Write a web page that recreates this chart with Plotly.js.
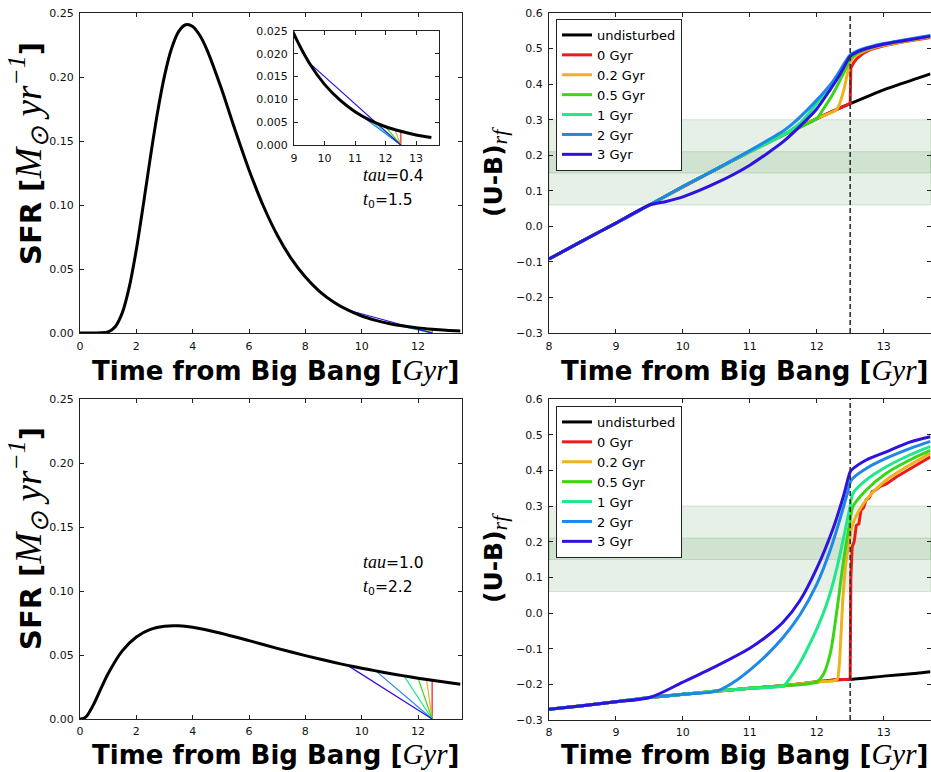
<!DOCTYPE html>
<html>
<head>
<meta charset="utf-8">
<script src="https://cdn.plot.ly/plotly-3.0.1.min.js"></script>
<style>html,body{margin:0;padding:0;background:#fff;}#chart{width:931px;height:772px;}</style>
</head>
<body>
<div id="chart"></div>
<script>
// ---------- SFR panels ----------
const sfrTimeTop = [0,0.5,0.75,1.0,1.25,1.5,1.75,2.0,2.25,2.5,2.75,3.0,3.25,3.5,3.75,4.0,4.25,4.5,5.0,5.5,6.0,6.5,7.0,7.5,8.0,8.5,9.0,9.5,10,10.5,11,11.5,12,12.5,13,13.5];
const sfrTop = [0,0,0.0001,0.0009,0.0049,0.0157,0.0360,0.0652,0.1005,0.1376,0.1721,0.2009,0.2222,0.2354,0.2408,0.2395,0.2326,0.2216,0.1921,0.1590,0.1274,0.0996,0.0766,0.0581,0.0437,0.0326,0.0243,0.0180,0.0133,0.0099,0.0073,0.0054,0.0040,0.0030,0.0022,0.00165];
const sfrTimeBot = [0,0.1,0.25,0.5,0.75,1,1.5,2,2.5,3,3.5,4,5,6,7,8,9,9.5,10,10.5,11,11.5,12,12.5,13,13.5];
const sfrBot = [0,0.0002,0.0026,0.0121,0.0241,0.0355,0.0532,0.0641,0.0700,0.0725,0.0728,0.0716,0.0670,0.0612,0.0552,0.0495,0.0443,0.0419,0.0397,0.0376,0.0356,0.0337,0.0319,0.0303,0.0287,0.0272];

// quenching: start times, SFR at start, end of quench
const seriesNames = ['0 Gyr','0.2 Gyr','0.5 Gyr','1 Gyr','2 Gyr','3 Gyr'];
const quenchStart = [12.5,12.3,12.0,11.5,10.5,9.5];
const quenchSfrTop = [0.0030,0.0034,0.0040,0.0054,0.0099,0.0180];
const quenchSfrBot = [0.0303,0.0309,0.0319,0.0337,0.0376,0.0419];
const quenchEnd = 12.5;
const quenchEndSfr = 0;

// ---------- (U-B) top-right ----------
const ubTimeUndTop = [8,8.5,9,9.5,10,10.5,11,11.5,12,12.3,12.5,13,13.5,13.7];
const ubUndTop = [-0.092,-0.041,0.009,0.060,0.112,0.161,0.210,0.257,0.303,0.329,0.345,0.384,0.416,0.429];
const tailTimeTop = [
  [12.5,12.51,12.55,12.6,12.7,12.8,13,13.3,13.7],
  [12.3,12.4,12.5,12.55,12.7,12.85,13,13.3,13.7],
  [12,12.1,12.25,12.4,12.5,12.6,12.8,13,13.3,13.7],
  [11.5,11.75,12,12.25,12.5,12.6,12.8,13,13.3,13.7],
  [10.5,11,11.5,11.65,12,12.25,12.5,12.6,12.8,13,13.3,13.7],
  [9.5,9.75,10,10.5,11,11.5,11.85,12,12.15,12.35,12.5,12.6,12.8,13,13.3,13.7]
];
const tailUbTop = [
  [0.345,0.445,0.460,0.472,0.487,0.497,0.508,0.519,0.531],
  [0.329,0.380,0.462,0.475,0.492,0.502,0.509,0.520,0.533],
  [0.303,0.330,0.375,0.430,0.470,0.486,0.502,0.512,0.522,0.535],
  [0.257,0.290,0.345,0.405,0.478,0.491,0.504,0.513,0.523,0.536],
  [0.161,0.213,0.268,0.290,0.355,0.410,0.482,0.493,0.505,0.514,0.524,0.537],
  [0.060,0.070,0.083,0.122,0.172,0.238,0.300,0.330,0.370,0.428,0.478,0.490,0.503,0.512,0.522,0.535]
];

// ---------- (U-B) bottom-right ----------
const ubTimeUndBot = [8,8.5,9,9.5,10,10.5,11,11.5,12,12.3,12.5,13,13.5,13.7];
const ubUndBot = [-0.270,-0.260,-0.249,-0.237,-0.228,-0.219,-0.211,-0.204,-0.193,-0.187,-0.186,-0.177,-0.169,-0.165];
const tailTimeBot = [
  [12.5,12.51,12.53,12.56,12.59,12.63,12.66,12.70,12.74,12.78,12.83,12.88,12.95,13.04,13.2,13.39,13.55,13.7],
  [12.3,12.33,12.36,12.39,12.44,12.5,12.54,12.74,13.04,13.39,13.7],
  [12,12.1,12.2,12.3,12.4,12.5,12.54,12.74,13.04,13.39,13.7],
  [11.5,11.6,11.75,11.9,12,12.1,12.2,12.3,12.4,12.5,12.54,12.74,13.04,13.39,13.7],
  [10.5,10.75,11,11.25,11.5,11.75,12,12.2,12.35,12.45,12.52,12.74,13.04,13.39,13.7],
  [9.5,10,10.5,11,11.25,11.5,11.75,12,12.25,12.4,12.5,12.52,12.74,13.04,13.39,13.7]
];
const tailUbBot = [
  [-0.186,0.100,0.186,0.200,0.245,0.250,0.288,0.295,0.318,0.322,0.340,0.345,0.355,0.362,0.383,0.404,0.422,0.438],
  [-0.187,-0.160,-0.070,0.036,0.146,0.215,0.251,0.317,0.373,0.415,0.448],
  [-0.193,-0.172,-0.115,0.005,0.146,0.260,0.298,0.345,0.392,0.429,0.456],
  [-0.204,-0.183,-0.140,-0.085,-0.045,0.000,0.055,0.125,0.210,0.300,0.335,0.373,0.410,0.443,0.467],
  [-0.219,-0.195,-0.160,-0.118,-0.068,-0.005,0.080,0.175,0.265,0.330,0.373,0.405,0.434,0.461,0.481],
  [-0.237,-0.194,-0.149,-0.099,-0.066,-0.025,0.035,0.125,0.240,0.328,0.396,0.401,0.429,0.452,0.479,0.494]
];

// observed colour bands
const bandOuter = [0.06, 0.30];
const bandInner = [0.15, 0.21];
const quenchLine = 12.5;

const colors = ['#ee1a1a','#eeb21e','#3ad616','#1ee88a','#1e88e8','#2e12e0'];

// ---------- build traces ----------
const traces = [];
function sfrPanel(xa, ya, tArr, sArr, qS) {
  for (let i = 0; i < seriesNames.length; i++) {
    traces.push({x:[quenchStart[i], quenchEnd], y:[qS[i], quenchEndSfr], xaxis:xa, yaxis:ya,
      mode:'lines', line:{color:colors[i], width:1.2}, showlegend:false, hoverinfo:'skip'});
  }
  traces.push({x:tArr, y:sArr, xaxis:xa, yaxis:ya, mode:'lines',
    line:{color:'#000', width:3, shape:'spline', smoothing:0.8}, showlegend:false});
}
sfrPanel('x','y',sfrTimeTop,sfrTop,quenchSfrTop);
sfrPanel('x5','y5',sfrTimeTop,sfrTop,quenchSfrTop);
sfrPanel('x3','y3',sfrTimeBot,sfrBot,quenchSfrBot);

function ubPanel(xa, ya, tU, vU, tT, vT, leg, smooth) {
  traces.push({x:tU, y:vU, xaxis:xa, yaxis:ya, mode:'lines', name:'undisturbed',
    line:{color:'#000', width:3, shape:'spline', smoothing:0.5}, legend:leg});
  for (let i = 0; i < seriesNames.length; i++) {
    const x = [], y = [];
    for (let k = 0; k < tU.length; k++) if (tU[k] < tT[i][0]) { x.push(tU[k]); y.push(vU[k]); }
    for (let k = 0; k < tT[i].length; k++) { x.push(tT[i][k]); y.push(vT[i][k]); }
    traces.push({x:x, y:y, xaxis:xa, yaxis:ya, mode:'lines', name:seriesNames[i],
      line:{color:colors[i], width:3, shape: i===0 ? 'linear' : 'spline', smoothing:smooth}, legend:leg});
  }
}
ubPanel('x2','y2',ubTimeUndTop,ubUndTop,tailTimeTop,tailUbTop,'legend',0.6);
ubPanel('x4','y4',ubTimeUndBot,ubUndBot,tailTimeBot,tailUbBot,'legend2',0.9);

// ---------- layout ----------
const W = 931, H = 772;
const px = v => v / W, py = v => 1 - v / H;
const tickFont = {family:'DejaVu Sans', size:11, color:'#111'};
function ax(domain, range, dtick, fmt, anchor, standoff) {
  return {domain:domain, range:range, dtick:dtick, tick0:0, tickformat:fmt, anchor:anchor,
    showline:true, linecolor:'#222', linewidth:1, mirror:'allticks', ticks:'inside', ticklen:4,
    tickcolor:'#222', showgrid:false, zeroline:false, tickfont:tickFont,
    ticklabelstandoff:(standoff === undefined ? 3 : standoff), fixedrange:true};
}
const leftX = [px(80), px(462)], rightX = [px(549), px(930.5)];
const topY = [py(333), py(13)], botY = [py(719), py(399)], botY4 = [py(720), py(399)];

const shapes = [];
[['x2','y2'],['x4','y4']].forEach(([xa,ya]) => {
  shapes.push({type:'rect', xref:xa+' domain', yref:ya, x0:0, x1:1, y0:bandOuter[0], y1:bandOuter[1],
    fillcolor:'rgba(60,140,60,0.13)', line:{color:'rgba(60,120,60,0.18)', width:1}, layer:'below'});
  shapes.push({type:'rect', xref:xa+' domain', yref:ya, x0:0, x1:1, y0:bandInner[0], y1:bandInner[1],
    fillcolor:'rgba(60,140,60,0.13)', line:{color:'rgba(60,120,60,0.18)', width:1}, layer:'below'});
  shapes.push({type:'line', xref:xa, yref:ya+' domain', x0:quenchLine, x1:quenchLine, y0:0, y1:1,
    line:{color:'#333', width:1.6, dash:'5px,3px'}, layer:'above'});
});

const serif = "font-family:Liberation Serif;font-weight:normal;font-style:italic";
const xTitleFont = {family:'DejaVu Sans', size:26, color:'#000', weight:'bold'};
const sfrTitleFont = {family:'DejaVu Sans', size:29, color:'#000', weight:'bold'};
const ubTitleFont = {family:'DejaVu Sans', size:25, color:'#000', weight:'bold'};
const xTitle = 'Time from Big Bang [<span style="' + serif + ';font-size:29px">Gyr</span>]';
const sfrTitle = 'SFR [<span style="' + serif + ';font-size:37px">M<sub>⊙</sub> yr<sup>−1</sup></span>]';
const ubTitle = '(U-B)<sub><span style="' + serif + ';font-size:22px">rf</span></sub>';
const paramFont = {family:'DejaVu Sans', size:15.5, color:'#000'};
const it = s => '<span style="' + serif + ';font-size:18px">' + s + '</span>';

const annotations = [
  {text:xTitle, xref:'paper', yref:'paper', x:px(275), y:py(388), xanchor:'center', yanchor:'bottom', showarrow:false, font:xTitleFont},
  {text:xTitle, xref:'paper', yref:'paper', x:px(744), y:py(388), xanchor:'center', yanchor:'bottom', showarrow:false, font:xTitleFont},
  {text:xTitle, xref:'paper', yref:'paper', x:px(275), y:py(772), xanchor:'center', yanchor:'bottom', showarrow:false, font:xTitleFont},
  {text:xTitle, xref:'paper', yref:'paper', x:px(744), y:py(772), xanchor:'center', yanchor:'bottom', showarrow:false, font:xTitleFont},
  {text:sfrTitle, xref:'paper', yref:'paper', x:px(28), y:py(154), xanchor:'center', yanchor:'middle', textangle:-90, showarrow:false, font:sfrTitleFont},
  {text:sfrTitle, xref:'paper', yref:'paper', x:px(28), y:py(539), xanchor:'center', yanchor:'middle', textangle:-90, showarrow:false, font:sfrTitleFont},
  {text:ubTitle, xref:'paper', yref:'paper', x:px(495), y:py(172), xanchor:'center', yanchor:'middle', textangle:-90, showarrow:false, font:ubTitleFont},
  {text:ubTitle, xref:'paper', yref:'paper', x:px(495), y:py(558), xanchor:'center', yanchor:'middle', textangle:-90, showarrow:false, font:ubTitleFont},
  {text:it('tau')+'=0.4', xref:'paper', yref:'paper', x:px(361), y:py(175), xanchor:'left', yanchor:'middle', showarrow:false, font:paramFont},
  {text:it('t')+'<sub>0</sub>=1.5', xref:'paper', yref:'paper', x:px(361), y:py(200), xanchor:'left', yanchor:'middle', showarrow:false, font:paramFont},
  {text:it('tau')+'=1.0', xref:'paper', yref:'paper', x:px(361), y:py(562), xanchor:'left', yanchor:'middle', showarrow:false, font:paramFont},
  {text:it('t')+'<sub>0</sub>=2.2', xref:'paper', yref:'paper', x:px(361), y:py(587), xanchor:'left', yanchor:'middle', showarrow:false, font:paramFont}
];

const legendStyle = (yTop) => ({x:px(556), y:py(yTop), xanchor:'left', yanchor:'top', bgcolor:'#fff',
  bordercolor:'#222', borderwidth:1, font:{family:'DejaVu Sans', size:13, color:'#000'}, tracegroupgap:0, itemwidth:30});

const layout = {
  width:W, height:H, margin:{l:0, r:0, t:0, b:0}, paper_bgcolor:'#fff', plot_bgcolor:'#fff',
  showlegend:true,
  xaxis: ax(leftX, [0, 13.56], 2, 'd', 'y'),
  yaxis: ax(topY, [0, 0.25], 0.05, '.2f', 'x'),
  xaxis2: ax(rightX, [8, 13.7], 1, 'd', 'y2'),
  yaxis2: ax(topY, [-0.3, 0.6], 0.1, '.1f', 'x2'),
  xaxis3: ax(leftX, [0, 13.56], 2, 'd', 'y3', 2),
  yaxis3: ax(botY, [0, 0.25], 0.05, '.2f', 'x3'),
  xaxis4: ax(rightX, [8, 13.7], 1, 'd', 'y4', 2),
  yaxis4: ax(botY4, [-0.3, 0.6], 0.1, '.1f', 'x4'),
  xaxis5: ax([px(294), px(439)], [9, 13.75], 1, 'd', 'y5'),
  yaxis5: ax([py(145), py(31)], [0, 0.0250001], 0.005, '.3f', 'x5'),
  legend: legendStyle(19),
  legend2: legendStyle(406),
  shapes: shapes,
  annotations: annotations
};

Plotly.newPlot('chart', traces, layout, {staticPlot:true});
</script>
</body>
</html>
